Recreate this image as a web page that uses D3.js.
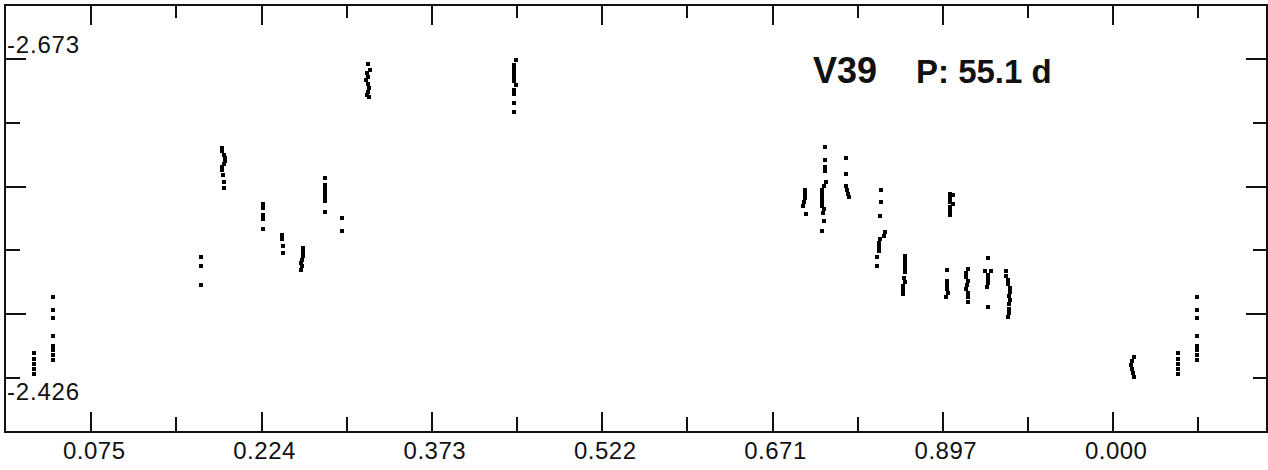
<!DOCTYPE html>
<html>
<head>
<meta charset="utf-8">
<script src="https://cdn.jsdelivr.net/npm/d3@7"></script>
<style>
  html, body { margin: 0; padding: 0; background: #fff; }
  svg { display: block; }
</style>
</head>
<body>
<svg id="chart" width="1268" height="470"></svg>
<script>
// ---- data (phase, magnitude) ----
const phase = [
  0.0258, 0.0258, 0.0258, 0.0258, 0.0258,
  0.0424, 0.0424, 0.0424, 0.0424, 0.0424, 0.0424, 0.0424, 0.0424,
  0.1715, 0.1715, 0.1715,
  0.1898, 0.1898, 0.1916, 0.1925, 0.1925, 0.1916, 0.1898, 0.1898, 0.1907, 0.1916, 0.1916,
  0.2257, 0.2257, 0.2257, 0.2257, 0.2257,
  0.2423, 0.2423, 0.2432, 0.2432,
  0.2607, 0.2607, 0.2607, 0.2598, 0.2589, 0.2598, 0.2589,
  0.2799, 0.2799, 0.2799, 0.2799, 0.2799, 0.2799, 0.2799,
  0.2948, 0.2948,
  0.3176, 0.3193, 0.3167, 0.3176, 0.3158, 0.3176, 0.3184, 0.3176, 0.3167, 0.3184,
  0.4470, 0.4453, 0.4453, 0.4453, 0.4453, 0.4453, 0.4470, 0.4453, 0.4453, 0.4453, 0.4453,
  0.6999, 0.6999, 0.6999, 0.6990, 0.6981, 0.7007,
  0.7173, 0.7173, 0.7173, 0.7173, 0.7182, 0.7165, 0.7147, 0.7147, 0.7147, 0.7147, 0.7147, 0.7165, 0.7156, 0.7165, 0.7147,
  0.7357, 0.7357, 0.7357, 0.7366, 0.7375, 0.7383,
  0.7663, 0.7663, 0.7655, 0.7698, 0.7690, 0.7655, 0.7646, 0.7646, 0.7646, 0.7628, 0.7628,
  0.8267, 0.8293, 0.8267, 0.8267, 0.8293, 0.8267, 0.8267, 0.8267,
  0.7873, 0.7873, 0.7873, 0.7873, 0.7873, 0.7865, 0.7873, 0.7856, 0.7856, 0.7856,
  0.8241, 0.8241, 0.8241, 0.8241, 0.8250, 0.8232,
  0.8425, 0.8407, 0.8407, 0.8425, 0.8416, 0.8407, 0.8425, 0.8425, 0.8425,
  0.8599, 0.8573, 0.8626, 0.8599, 0.8599, 0.8599, 0.8591, 0.8599,
  0.8757, 0.8757, 0.8774, 0.8774, 0.8792, 0.8792, 0.8783, 0.8792, 0.8783, 0.8783, 0.8783, 0.8774,
  0.9877, 0.9859, 0.9850, 0.9859, 0.9868, 0.9877
];
const mag = [
  -2.4446, -2.4400, -2.4361, -2.4322, -2.4283,
  -2.4881, -2.4780, -2.4718, -2.4578, -2.4500, -2.4469, -2.4431, -2.4392,
  -2.5191, -2.5121, -2.4974,
  -2.6039, -2.6015, -2.5984, -2.5961, -2.5938, -2.5914, -2.5891, -2.5868, -2.5829, -2.5775, -2.5728,
  -2.5604, -2.5573, -2.5518, -2.5487, -2.5409,
  -2.5362, -2.5331, -2.5277, -2.5222,
  -2.5261, -2.5230, -2.5199, -2.5168, -2.5144, -2.5121, -2.5090,
  -2.5806, -2.5751, -2.5720, -2.5689, -2.5658, -2.5627, -2.5542,
  -2.5495, -2.5394,
  -2.6691, -2.6645, -2.6621, -2.6590, -2.6567, -2.6536, -2.6505, -2.6474, -2.6450, -2.6435,
  -2.6722, -2.6683, -2.6652, -2.6621, -2.6590, -2.6559, -2.6528, -2.6489, -2.6458, -2.6388, -2.6318,
  -2.5712, -2.5681, -2.5650, -2.5619, -2.5588, -2.5526,
  -2.6046, -2.5945, -2.5891, -2.5860, -2.5775, -2.5744, -2.5712, -2.5681, -2.5650, -2.5619, -2.5588, -2.5565, -2.5534, -2.5471, -2.5394,
  -2.5961, -2.5837, -2.5744, -2.5712, -2.5681, -2.5658,
  -2.5712, -2.5619, -2.5510, -2.5386, -2.5355, -2.5331, -2.5301, -2.5269, -2.5238, -2.5191, -2.5121,
  -2.5681, -2.5674, -2.5650, -2.5619, -2.5604, -2.5580, -2.5549, -2.5518,
  -2.5199, -2.5168, -2.5137, -2.5106, -2.5075, -2.5029, -2.4997, -2.4966, -2.4935, -2.4904,
  -2.5090, -2.5005, -2.4974, -2.4943, -2.4912, -2.4881,
  -2.5098, -2.5067, -2.5036, -2.5005, -2.4974, -2.4943, -2.4912, -2.4881, -2.4842,
  -2.5183, -2.5083, -2.5083, -2.5052, -2.5021, -2.4990, -2.4959, -2.4803,
  -2.5083, -2.5044, -2.5013, -2.4982, -2.4951, -2.4920, -2.4889, -2.4857, -2.4826, -2.4788, -2.4757, -2.4725,
  -2.4415, -2.4384, -2.4353, -2.4322, -2.4291, -2.4260
];

const xTickValues = [0.075, 0.224, 0.373, 0.522, 0.671, 0.820, 0.969];
const xTickLabels = ["0.075", "0.224", "0.373", "0.522", "0.671", "0.897", "0.000"];
const xMinorValues = [0.1495, 0.2985, 0.4475, 0.5965, 0.7455, 0.8945, 1.0435];
const yTickValues = [-2.673, -2.6236, -2.5742, -2.5248, -2.4754, -2.426];
const yTickLabels = ["-2.673", "", "", "", "", "-2.426"];
const titleStar = "V39";
const titlePeriod = "P: 55.1 d";
const phaseDomain = [0, 1.104];
const magDomain = [-2.7149, -2.3833];

// ---- drawing ----
const svg = d3.select("#chart");
const L = 5, R = 1267, T = 5, B = 432;
const x = d3.scaleLinear().domain(phaseDomain).range([L, R]);
const y = d3.scaleLinear().domain(magDomain).range([T, B]);
const ink = "#111";
const fontFam = "'Liberation Sans', Arial, sans-serif";

// points, with phases repeated beyond 1
const pts = phase.map((p, i) => ({p, m: mag[i]}));
const extra = pts.filter(d => d.p + 1 <= phaseDomain[1]).map(d => ({p: d.p + 1, m: d.m}));
const all = pts.concat(extra);
const s = 4;
svg.append("g").attr("shape-rendering", "crispEdges")
  .selectAll("rect").data(all).join("rect")
  .attr("x", d => Math.round(x(d.p) - s / 2))
  .attr("y", d => Math.round(y(d.m) - s / 2))
  .attr("width", s).attr("height", s)
  .attr("fill", "#000");

function styleAxis(g) {
  g.select(".domain").remove();
  g.attr("shape-rendering", "crispEdges");
  g.selectAll(".tick line").attr("stroke", ink).attr("stroke-width", 2);
}

// bottom axis: major with labels
const xMajor = d3.axisBottom(x).tickValues(xTickValues).tickSize(-20).tickPadding(10)
  .tickFormat((d, i) => xTickLabels[i]);
const gb = svg.append("g").attr("transform", `translate(0,${B})`).call(xMajor).call(styleAxis);
gb.selectAll("text").attr("font-family", fontFam).attr("font-size", 24)
  .attr("fill", ink).attr("y", 10).attr("dy", "0.71em").attr("dx", 3).attr("letter-spacing", 0.5);
svg.append("g").attr("transform", `translate(0,${B})`)
  .call(d3.axisBottom(x).tickValues(xMinorValues).tickSize(-15).tickFormat(""))
  .call(styleAxis);

// top axis
svg.append("g").attr("transform", `translate(0,${T})`)
  .call(d3.axisTop(x).tickValues(xTickValues).tickSize(-20).tickFormat(""))
  .call(styleAxis);
svg.append("g").attr("transform", `translate(0,${T})`)
  .call(d3.axisTop(x).tickValues(xMinorValues).tickSize(-13).tickFormat(""))
  .call(styleAxis);

// left & right axes: alternating long/short ticks
const yMajorVals = yTickValues.filter((d, i) => i % 2 === 0);
const yMinorVals = yTickValues.filter((d, i) => i % 2 === 1);
svg.append("g").attr("transform", `translate(${L},0)`)
  .call(d3.axisLeft(y).tickValues(yMajorVals).tickSize(-21).tickFormat(""))
  .call(styleAxis);
svg.append("g").attr("transform", `translate(${L},0)`)
  .call(d3.axisLeft(y).tickValues(yMinorVals).tickSize(-15).tickFormat(""))
  .call(styleAxis);
svg.append("g").attr("transform", `translate(${R},0)`)
  .call(d3.axisRight(y).tickValues(yMajorVals).tickSize(-21).tickFormat(""))
  .call(styleAxis);
svg.append("g").attr("transform", `translate(${R},0)`)
  .call(d3.axisRight(y).tickValues(yMinorVals).tickSize(-14).tickFormat(""))
  .call(styleAxis);

// y labels (top above tick, bottom below tick)
svg.append("g").selectAll("text")
  .data(yTickValues.map((v, i) => ({v, t: yTickLabels[i], i})).filter(d => d.t))
  .join("text")
  .attr("x", L + 2)
  .attr("y", d => y(d.v) + (d.i === 0 ? -6 : 23))
  .attr("font-family", fontFam).attr("font-size", 24).attr("fill", ink)
  .attr("letter-spacing", 0.8)
  .text(d => d.t);

// frame
svg.append("rect").attr("x", L).attr("y", T).attr("width", R - L).attr("height", B - T)
  .attr("fill", "none").attr("stroke", ink).attr("stroke-width", 2)
  .attr("shape-rendering", "crispEdges");

// title
svg.append("text").attr("x", 813).attr("y", 83)
  .attr("font-family", fontFam).attr("font-weight", "bold").attr("font-size", 36)
  .attr("fill", "#111").text(titleStar);
svg.append("text").attr("x", 916).attr("y", 83)
  .attr("font-family", fontFam).attr("font-weight", "bold").attr("font-size", 33)
  .attr("fill", "#111").text(titlePeriod);
</script>
</body>
</html>
